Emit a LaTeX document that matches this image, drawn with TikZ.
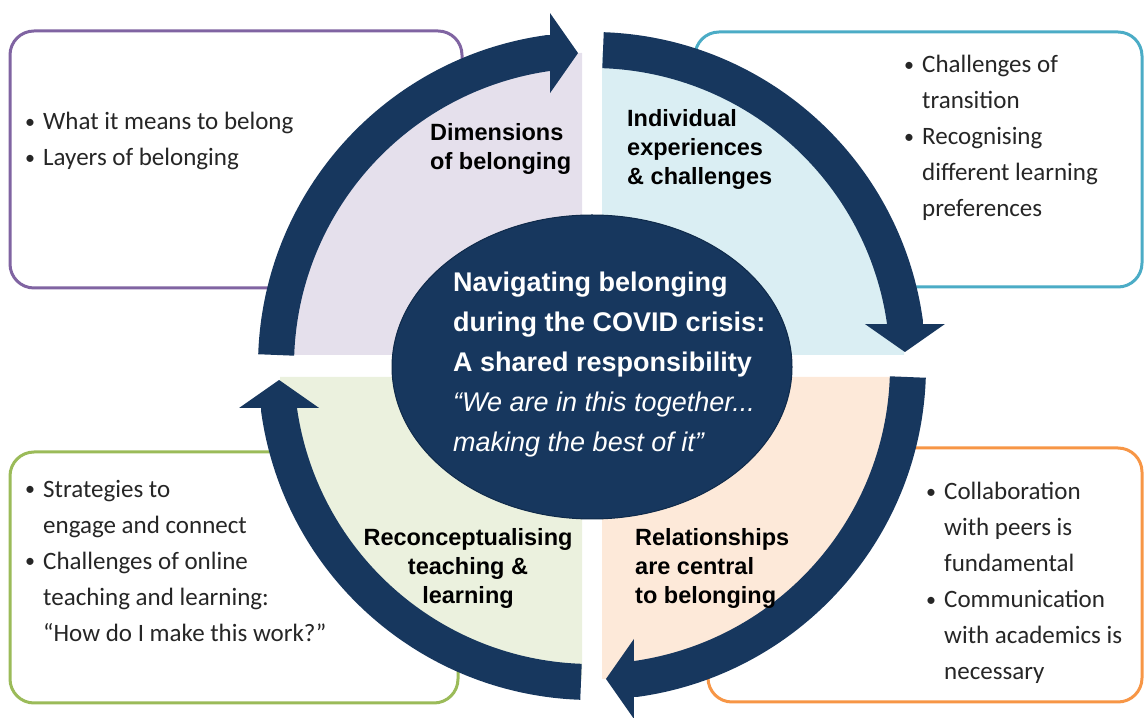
\documentclass[tikz,border=0pt]{standalone}
\usepackage{graphicx}
\usepackage{fontspec}
\setmainfont{Carlito}
\newfontfamily\lblfont{Liberation Sans}
\usetikzlibrary{arrows.meta,shapes.geometric,positioning}

\definecolor{navy}{HTML}{17375E}
\definecolor{navyline}{HTML}{0F2A4A}
\definecolor{purplefill}{HTML}{E5E0EC}
\definecolor{bluefill}{HTML}{DAEEF3}
\definecolor{peachfill}{HTML}{FDE9D9}
\definecolor{greenfill}{HTML}{EBF1DE}
\definecolor{purpleline}{HTML}{8064A2}
\definecolor{blueline}{HTML}{4BACC6}
\definecolor{orangeline}{HTML}{F79646}
\definecolor{greenline}{HTML}{9BBB59}
\definecolor{txtgray}{HTML}{262626}

\newcommand{\bul}{\makebox[18pt][l]{\raisebox{0.06em}{\scalebox{0.8}{\textbullet}}}}
\newcommand{\ind}{\hspace*{18pt}}

\begin{document}
\begin{tikzpicture}[
  x=1pt, y=1pt,
  box/.style={draw, rounded corners=24pt, line width=3pt, fill=white},
  band/.style={line width=36pt, draw=navy, -{Triangle[width=80pt,length=28pt,line width=0pt]}},
  lbl/.style={font=\lblfont\bfseries\fontsize{23.5}{29}\selectfont, text=black, align=left, inner sep=0pt, anchor=north west},
  pts/.style={font=\fontsize{25}{36}\selectfont, text=txtgray, align=left, inner sep=0pt, anchor=north west}
]
\useasboundingbox (0,0) rectangle (1145,717);

% Outer boxes
\draw[box, draw=purpleline] (10,429) rectangle (462,686);
\draw[box, draw=blueline] (695,430) rectangle (1142,685);
\draw[box, draw=greenline] (10,14) rectangle (458,265);
\draw[box, draw=orangeline] (708,15) rectangle (1142,269);

% Quadrants
\coordinate (C) at (592,351);
\fill[purplefill] (582,362) -- ++(-302,0) arc[start angle=180, end angle=90, radius=302] -- cycle;
\fill[bluefill] (602,362) -- ++(0,302) arc[start angle=90, end angle=0, radius=302] -- cycle;
\fill[peachfill] (602,340) -- ++(302,0) arc[start angle=0, end angle=-90, radius=302] -- cycle;
\fill[greenfill] (582,340) -- ++(0,-302) arc[start angle=-90, end angle=-180, radius=302] -- cycle;

% Cycle arrows
\foreach \a in {178,88,-2,-92}
  \draw[band] (C) ++(\a:316) arc[start angle=\a, end angle=\a-80, radius=316] -- ++(\a-178:30);

% Centre
\node[ellipse, fill=navy, draw=navyline, line width=1pt, minimum width=400pt, minimum height=304pt] (hub) at (592,350) {};
\node[font=\lblfont\bfseries\fontsize{27}{40}\selectfont, text=white, align=left, inner sep=0pt, anchor=north west] (hubtext) at (453,445)
  {Navigating belonging\\during the COVID crisis:\\A shared responsibility\\{\mdseries\itshape “We are in this together...}\\{\mdseries\itshape making the best of it”}};

% Quadrant labels
\node[lbl] (dim) at (430,594) {Dimensions\\of belonging};
\node[lbl] (indiv) at (627,608) {Individual\\experiences\\\& challenges};
\node[lbl, align=center, anchor=north] (recon) at (468,189) {Reconceptualising\\teaching \&\\learning};
\node[lbl] (relat) at (635,189) {Relationships\\are central\\to belonging};

% Box points
\node[pts] (dimpts) at (25,605) {\bul What it means to belong\\\bul Layers of belonging};
\node[pts] (indpts) at (904,662) {\bul Challenges of\\\ind transition\\\bul Recognising\\\ind different learning\\\ind preferences};
\node[pts] (recpts) at (25,237) {\bul Strategies to\\\ind engage and connect\\\bul Challenges of online\\\ind teaching and learning:\\\ind “How do I make this work?”};
\node[pts] (relpts) at (926,235) {\bul Collaboration\\\ind with peers is\\\ind fundamental\\\bul Communication\\\ind with academics is\\\ind necessary};

\end{tikzpicture}
\end{document}
